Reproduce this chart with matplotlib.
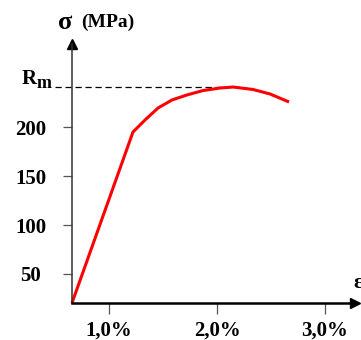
import matplotlib
matplotlib.use("Agg")
import matplotlib.pyplot as plt

plt.rcParams['font.family'] = ['Liberation Serif', 'DejaVu Serif']
plt.rcParams['font.weight'] = 'bold'

# Datos (deformacion en %, tension en MPa)
strain = [0.657, 1.222, 1.333, 1.454, 1.583, 1.722, 1.870, 2.028, 2.148, 2.333, 2.491, 2.667]
stress = [20.4, 194.9, 207.1, 219.4, 227.6, 232.7, 237.2, 239.8, 240.8, 238.3, 233.7, 225.5]

y_ticks = [50, 100, 150, 200]
x_ticks = [1.0, 2.0, 3.0]
x_labels = ["1,0%", "2,0%", "3,0%"]

rm = max(stress)
rm_x = strain[stress.index(rm)]

fig = plt.figure(figsize=(3.61, 3.40), dpi=100)
ax = fig.add_axes([0, 0, 1, 1])
ax.set_xlim(-0.0093, 3.333)
ax.set_ylim(-17.35, 329.6)
ax.patch.set_visible(False)

# Ejes con origen en el inicio de la curva
ax.spines['top'].set_visible(False)
ax.spines['right'].set_visible(False)
ax.spines['left'].set_position(('data', strain[0]))
ax.spines['bottom'].set_position(('data', stress[0]))
ax.spines['left'].set_bounds(stress[0], 285)
ax.spines['bottom'].set_bounds(strain[0], 3.28)
ax.spines['left'].set_linewidth(1.1)
ax.spines['left'].set_color('#333333')
ax.spines['bottom'].set_linewidth(1.8)
ax.spines['bottom'].set_color('black')

# Flechas de los ejes
ax.plot([strain[0]], [285], marker='^', color='black', markersize=7, clip_on=False)
ax.plot([3.28], [stress[0]], marker='>', color='black', markersize=7, clip_on=False)

ax.set_yticks(y_ticks)
ax.set_yticklabels([str(v) for v in y_ticks])
ax.set_xticks(x_ticks)
ax.set_xticklabels(x_labels)
ax.tick_params(axis='y', direction='out', length=6.5, width=0.9, color='#555555',
               labelsize=15, pad=23)
ax.tick_params(axis='x', direction='out', length=8, width=0.9, color='#555555',
               labelsize=15, pad=5)
for lbl in ax.get_yticklabels():
    lbl.set_horizontalalignment('center')

# Linea de Rm
ax.plot([0.5, rm_x], [rm, rm], color='black', linewidth=0.9, linestyle=(0, (5, 3)))

# Curva tension-deformacion
ax.plot(strain, stress, color='red', linewidth=2.2, solid_capstyle='butt',
        solid_joinstyle='round')

# Textos
ax.text(0.53, 307, "σ", fontsize=19, ha='left', va='center', fontweight='bold')
ax.text(0.74, 307, "(MPa)", fontsize=14, ha='left', va='center', fontweight='bold')
ax.text(0.194, 244, "R", fontsize=15, ha='left', va='baseline', fontweight='bold')
ax.text(0.333, 240, "m", fontsize=13, ha='left', va='baseline', fontweight='bold')
ax.text(3.259, 41, "ε", fontsize=16, ha='left', va='center', fontweight='bold')

plt.savefig("out.png", dpi=100)
